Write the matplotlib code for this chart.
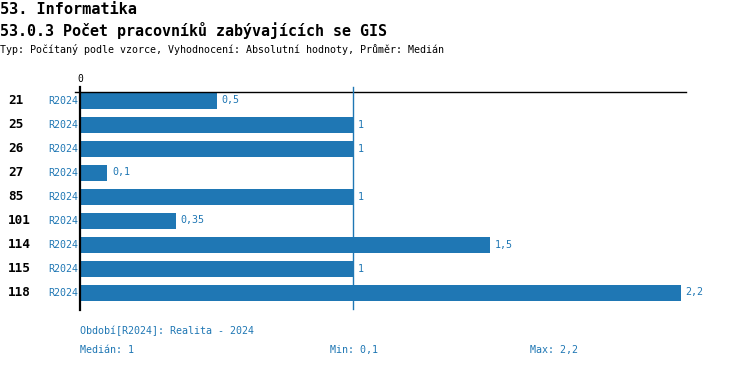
import matplotlib
matplotlib.use("Agg")
import matplotlib.pyplot as plt
from matplotlib.transforms import blended_transform_factory

# data
rows = ["21", "25", "26", "27", "85", "101", "114", "115", "118"]
period = ["R2024"] * 9
values = [0.5, 1, 1, 0.1, 1, 0.35, 1.5, 1, 2.2]
median_val = 1
min_val = 0.1
max_val = 2.2

blue = "#1f77b4"
mono = "DejaVu Sans Mono"

def fmt(v):
    s = ("%g" % v).replace(".", ",")
    return s

W, H = 750, 368
fig = plt.figure(figsize=(7.5, 3.68), dpi=100)
ax = fig.add_axes([80 / W, (H - 310) / H, (686 - 80) / W, (310 - 92) / H])

n = len(rows)
ypos = list(range(n))
ax.barh(ypos, values, height=16 / 24, color=blue)
ax.set_xlim(0, 606 / 273)
ax.set_ylim(209.5 / 24, -8.5 / 24)

for s in ax.spines.values():
    s.set_visible(False)
ax.set_xticks([])
ax.set_yticks([])

# top line and zero line
ax.axhline(-8.5 / 24, xmin=-0.008, xmax=1, color="black", lw=1.0, clip_on=False)
ax.axvline(0, ymin=0, ymax=1.025, color="black", lw=1.6, clip_on=False)
ax.axvline(median_val, ymin=0.005, ymax=1.025, color=blue, lw=1.0, clip_on=False)
ax.text(0, 1.035, "0", transform=ax.get_xaxis_transform(), ha="center", va="bottom",
        fontsize=7, family=mono, color="black")

# value labels
for i, v in enumerate(values):
    ax.annotate(fmt(v), (v, i), xytext=(3.5, 0), textcoords="offset points",
                ha="left", va="center", fontsize=7.2, family=mono, color=blue)

# row labels
tr = blended_transform_factory(fig.transFigure, ax.transData)
for i, (r, p) in enumerate(zip(rows, period)):
    ax.text(8 / W, i, r, transform=tr, ha="left", va="center", fontsize=9.2,
            family=mono, fontweight="bold", color="black")
    ax.text(78 / W, i, p, transform=tr, ha="right", va="center", fontsize=7.2,
            family=mono, color=blue)

# titles
fig.text(0, 1 - 2 / H, "53. Informatika", ha="left", va="top", fontsize=11,
         family=mono, fontweight="bold")
fig.text(0, 1 - 22 / H, "53.0.3 Počet pracovníků zabývajících se GIS", ha="left",
         va="top", fontsize=10.8, family=mono, fontweight="bold")
fig.text(0, 1 - 44 / H, "Typ: Počítaný podle vzorce, Vyhodnocení: Absolutní hodnoty, Průměr: Medián",
         ha="left", va="top", fontsize=7.2, family=mono)

# footer
fig.text(80 / W, 1 - 331 / H, "Období[R2024]: Realita - 2024", ha="left", va="center",
         fontsize=7.2, family=mono, color=blue)
fig.text(80 / W, 1 - 350 / H, "Medián: " + fmt(median_val), ha="left", va="center",
         fontsize=7.2, family=mono, color=blue)
fig.text(330 / W, 1 - 350 / H, "Min: " + fmt(min_val), ha="left", va="center",
         fontsize=7.2, family=mono, color=blue)
fig.text(530 / W, 1 - 350 / H, "Max: " + fmt(max_val), ha="left", va="center",
         fontsize=7.2, family=mono, color=blue)

fig.savefig("out.png", dpi=100)
